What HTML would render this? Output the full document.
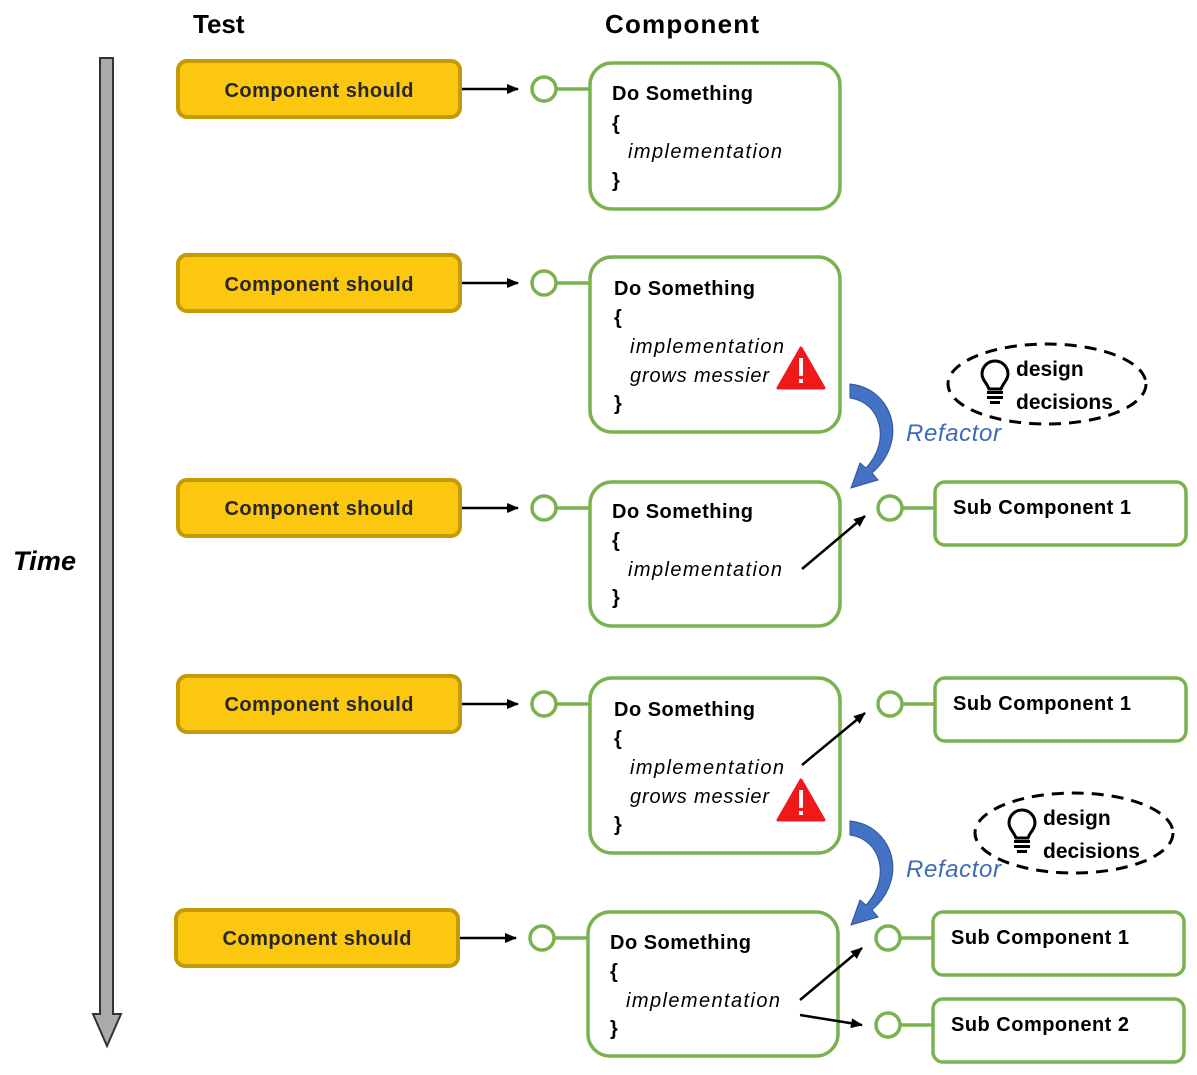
<!DOCTYPE html>
<html><head><meta charset="utf-8"><style>
html,body{margin:0;padding:0;background:#fff;}
svg{display:block;font-family:"Liberation Sans",sans-serif;}
.y{fill:#fcc70f;stroke:#c49a06;stroke-width:4;}
.yt{font-weight:bold;font-size:20px;fill:#262626;}
.g{fill:#fff;stroke:#7ab24f;stroke-width:3.5;}
.gl{stroke:#7ab24f;stroke-width:3.5;}
.c{fill:#fff;stroke:#7ab24f;stroke-width:3.5;}
.b{font-weight:bold;font-size:20px;fill:#000;}
.i{font-style:italic;font-size:20px;fill:#000;}
.ar{stroke:#000;stroke-width:2.5;marker-end:url(#ah);}
.rf{font-style:italic;font-size:24px;fill:#3d6bb5;}
.dd{font-weight:bold;font-size:21px;fill:#000;}
</style></head><body>
<svg width="1197" height="1075" viewBox="0 0 1197 1075">
<defs>
<marker id="ah" markerWidth="12" markerHeight="12" refX="11" refY="6" orient="auto" markerUnits="userSpaceOnUse"><path d="M0,1 L12,6 L0,11 Z" fill="#000"/></marker>
<g id="warn"><path d="M22,0 L45,40 L-1,40 Z" fill="#f01818" stroke="#f01818" stroke-width="3" stroke-linejoin="round"/><rect x="20" y="10" width="4" height="18" fill="#fff"/><rect x="20" y="31" width="4" height="4" fill="#fff"/></g>
<g id="bulb"><path d="M-6,12 C-8,6 -13,3 -13,-3 A13,13 0 1 1 13,-3 C13,3 8,6 6,12 Z" fill="none" stroke="#000" stroke-width="3"/><rect x="-8" y="14" width="16" height="3"/><rect x="-8" y="19" width="16" height="3"/><rect x="-5" y="24" width="10" height="3"/></g>
<path id="rfa" d="M850,384 C892,388 910,440 872,473 L878,480 L851,488 L860,463 L866,468 C892,440 880,402 850,398 Z" fill="#4472c4" stroke="#2f5597" stroke-width="1"/>
</defs>

<text x="193" y="33" style="font-weight:bold;font-size:26px">Test</text>
<text x="605" y="33" style="font-weight:bold;font-size:26px" textLength="154">Component</text>
<text x="13" y="570" style="font-weight:bold;font-style:italic;font-size:27px" textLength="63">Time</text>

<path d="M100,58 L113,58 L113,1014 L121,1014 L107,1046 L93,1014 L100,1014 Z" fill="#aaa" stroke="#333" stroke-width="2"/>

<!-- Row 1 -->
<rect class="y" x="178" y="61" width="282" height="56" rx="9"/>
<text class="yt" x="319" y="97" text-anchor="middle" textLength="189">Component should</text>
<line class="ar" x1="462" y1="89" x2="518" y2="89"/>
<line class="gl" x1="556" y1="89" x2="592" y2="89"/>
<circle class="c" cx="544" cy="89" r="12"/>
<rect class="g" x="590" y="63" width="250" height="146" rx="22"/>
<text class="b" x="612" y="100" textLength="141">Do Something</text>
<text class="b" x="612" y="130">{</text>
<text class="i" x="628" y="158" textLength="154">implementation</text>
<text class="b" x="612" y="187">}</text>

<!-- Row 2 -->
<rect class="y" x="178" y="255" width="282" height="56" rx="9"/>
<text class="yt" x="319" y="291" text-anchor="middle" textLength="189">Component should</text>
<line class="ar" x1="462" y1="283" x2="518" y2="283"/>
<line class="gl" x1="556" y1="283" x2="592" y2="283"/>
<circle class="c" cx="544" cy="283" r="12"/>
<rect class="g" x="590" y="257" width="250" height="175" rx="22"/>
<text class="b" x="614" y="295" textLength="141">Do Something</text>
<text class="b" x="614" y="324">{</text>
<text class="i" x="630" y="353" textLength="154">implementation</text>
<text class="i" x="630" y="382" textLength="139">grows messier</text>
<text class="b" x="614" y="410">}</text>
<use href="#warn" x="779" y="348"/>

<use href="#rfa"/>
<text class="rf" x="906" y="441" textLength="95">Refactor</text>
<ellipse cx="1047" cy="384" rx="99" ry="40" fill="none" stroke="#000" stroke-width="3" stroke-dasharray="12,8"/>
<use href="#bulb" x="995" y="377"/>
<text class="dd" x="1016" y="376">design</text>
<text class="dd" x="1016" y="409">decisions</text>

<!-- Row 3 -->
<rect class="y" x="178" y="480" width="282" height="56" rx="9"/>
<text class="yt" x="319" y="515" text-anchor="middle" textLength="189">Component should</text>
<line class="ar" x1="462" y1="508" x2="518" y2="508"/>
<line class="gl" x1="556" y1="508" x2="592" y2="508"/>
<circle class="c" cx="544" cy="508" r="12"/>
<rect class="g" x="590" y="482" width="250" height="144" rx="22"/>
<text class="b" x="612" y="518" textLength="141">Do Something</text>
<text class="b" x="612" y="547">{</text>
<text class="i" x="628" y="576" textLength="154">implementation</text>
<text class="b" x="612" y="604">}</text>
<line class="ar" x1="802" y1="569" x2="865" y2="516"/>
<line class="gl" x1="902" y1="508" x2="937" y2="508"/>
<circle class="c" cx="890" cy="508" r="12"/>
<rect class="g" x="935" y="482" width="251" height="63" rx="10"/>
<text class="b" x="953" y="514" textLength="178">Sub Component 1</text>

<!-- Row 4 -->
<rect class="y" x="178" y="676" width="282" height="56" rx="9"/>
<text class="yt" x="319" y="711" text-anchor="middle" textLength="189">Component should</text>
<line class="ar" x1="462" y1="704" x2="518" y2="704"/>
<line class="gl" x1="556" y1="704" x2="592" y2="704"/>
<circle class="c" cx="544" cy="704" r="12"/>
<rect class="g" x="590" y="678" width="250" height="175" rx="22"/>
<text class="b" x="614" y="716" textLength="141">Do Something</text>
<text class="b" x="614" y="745">{</text>
<text class="i" x="630" y="774" textLength="154">implementation</text>
<text class="i" x="630" y="803" textLength="139">grows messier</text>
<text class="b" x="614" y="831">}</text>
<use href="#warn" x="779" y="780"/>
<line class="ar" x1="802" y1="765" x2="865" y2="713"/>
<line class="gl" x1="902" y1="704" x2="937" y2="704"/>
<circle class="c" cx="890" cy="704" r="12"/>
<rect class="g" x="935" y="678" width="251" height="63" rx="10"/>
<text class="b" x="953" y="710" textLength="178">Sub Component 1</text>

<use href="#rfa" y="437"/>
<text class="rf" x="906" y="877" textLength="95">Refactor</text>
<ellipse cx="1074" cy="833" rx="99" ry="40" fill="none" stroke="#000" stroke-width="3" stroke-dasharray="12,8"/>
<use href="#bulb" x="1022" y="826"/>
<text class="dd" x="1043" y="825">design</text>
<text class="dd" x="1043" y="858">decisions</text>

<!-- Row 5 -->
<rect class="y" x="176" y="910" width="282" height="56" rx="9"/>
<text class="yt" x="317" y="945" text-anchor="middle" textLength="189">Component should</text>
<line class="ar" x1="460" y1="938" x2="516" y2="938"/>
<line class="gl" x1="554" y1="938" x2="590" y2="938"/>
<circle class="c" cx="542" cy="938" r="12"/>
<rect class="g" x="588" y="912" width="250" height="144" rx="22"/>
<text class="b" x="610" y="949" textLength="141">Do Something</text>
<text class="b" x="610" y="978">{</text>
<text class="i" x="626" y="1007" textLength="154">implementation</text>
<text class="b" x="610" y="1035">}</text>
<line class="ar" x1="800" y1="1000" x2="862" y2="948"/>
<line class="ar" x1="800" y1="1015" x2="862" y2="1025"/>
<line class="gl" x1="900" y1="938" x2="935" y2="938"/>
<circle class="c" cx="888" cy="938" r="12"/>
<rect class="g" x="933" y="912" width="251" height="63" rx="10"/>
<text class="b" x="951" y="944" textLength="178">Sub Component 1</text>
<line class="gl" x1="900" y1="1025" x2="935" y2="1025"/>
<circle class="c" cx="888" cy="1025" r="12"/>
<rect class="g" x="933" y="999" width="251" height="63" rx="10"/>
<text class="b" x="951" y="1031" textLength="178">Sub Component 2</text>
</svg>
</body></html>
